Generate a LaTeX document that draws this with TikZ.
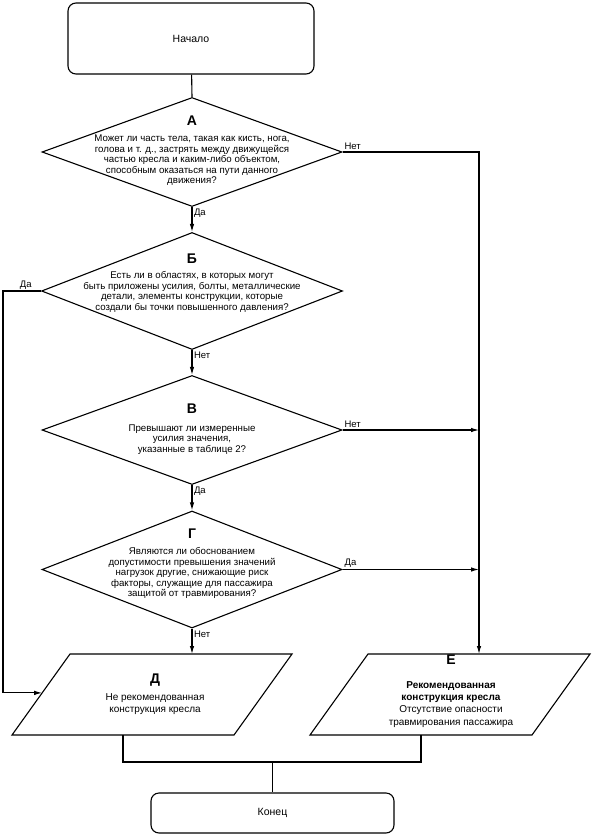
\documentclass[tikz,border=0pt]{standalone}
\usepackage{fontspec}
\setmainfont{Liberation Sans}
\usetikzlibrary{positioning,arrows.meta,shapes.geometric,calc}

\tikzset{
  terminal/.style={rectangle, rounded corners=8pt, draw, line width=1.1pt, font=\fontsize{10.5}{12}\selectfont},
  decision/.style={diamond, draw, line width=1.1pt, inner sep=0pt},
  qtext/.style={align=center, font=\fontsize{9.7}{10.6}\selectfont},
  outcome/.style={align=center, inner sep=0pt, font=\fontsize{10}{12.2}\selectfont},
  lbl/.style={font=\fontsize{9.5}{11}\selectfont, inner sep=1.5pt},
  flow/.style={line width=1.1pt, -{Latex[length=8pt,width=4.5pt]}},
  link/.style={line width=1.1pt}
}
\newcommand{\stagename}[1]{{\fontsize{14}{16}\selectfont\bfseries #1}}

\begin{document}
\begin{tikzpicture}[x=1pt, y=-1pt]
    \useasboundingbox (0,0) rectangle (591,837);

    % Start and end
    \node[terminal, minimum width=246pt, minimum height=71pt] (start) at (191,38.5) {Начало};
    \node[terminal, minimum width=243pt, minimum height=40pt] (finish) at (272.5,813) {Конец};

    % Questions
    \node[decision, minimum width=300pt, minimum height=109pt] (A) at (192,152) {};
    \node[qtext] (Atext) at (192,151) {\stagename{А}\\[5pt]
        Может ли часть тела, такая как кисть, нога,\\
        голова и т. д., застрять между движущейся\\
        частью кресла и каким-либо объектом,\\
        способным оказаться на пути данного\\
        движения?};

    \node[decision, minimum width=301pt, minimum height=117pt] (B) at (192,291) {};
    \node[qtext] (Btext) at (192,283) {\stagename{Б}\\[5pt]
        Есть ли в областях, в которых могут\\
        быть приложены усилия, болты, металлические\\
        детали, элементы конструкции, которые\\
        создали бы точки повышенного давления?};

    \node[decision, minimum width=300pt, minimum height=109pt] (C) at (192,430) {};
    \node[qtext] (Ctext) at (192,429) {\stagename{В}\\[7pt]
        Превышают ли измеренные\\
        усилия значения,\\
        указанные в таблице 2?};

    \node[decision, minimum width=300pt, minimum height=117pt] (G) at (192,569.5) {};
    \node[qtext] (Gtext) at (192,564) {\stagename{Г}\\[5pt]
        Являются ли обоснованием\\
        допустимости превышения значений\\
        нагрузок другие, снижающие риск\\
        факторы, служащие для пассажира\\
        защитой от травмирования?};

    % Outcomes
    \coordinate (Dnw) at (70,654);  \coordinate (Dne) at (292,654);
    \coordinate (Dse) at (234,735); \coordinate (Dsw) at (12,735);
    \coordinate (Enw) at (368,654); \coordinate (Ene) at (590,654);
    \coordinate (Ese) at (532,735); \coordinate (Esw) at (310,735);
    \draw[link] (Dnw) -- (Dne) -- (Dse) -- (Dsw) -- cycle;
    \draw[link] (Enw) -- (Ene) -- (Ese) -- (Esw) -- cycle;
    \node[outcome] (D) at (155,694) {\stagename{Д}\\[5pt]
        Не рекомендованная\\
        конструкция кресла};
    \node[outcome] (E) at (451,691) {\stagename{Е}\\[12pt]
        \textbf{Рекомендованная}\\
        \textbf{конструкция кресла}\\
        Отсутствие опасности\\
        травмирования пассажира};

    \coordinate (Dtop) at ($(Dnw)!0.5!(Dne)$);
    \coordinate (Dbot) at ($(Dsw)!0.5!(Dse)$);
    \coordinate (Etop) at ($(Enw)!0.5!(Ene)$);
    \coordinate (Ebot) at ($(Esw)!0.5!(Ese)$);
    \coordinate (dleft) at ($(Dsw)!0.52!(Dnw)$);
    \coordinate (bturn) at (3,291);
    \coordinate (merge) at (272.5,762);

    % Connectors
    \draw[link] (start) -- (A.north);
    \draw[flow] (A.south) -- (B.north) node[lbl, pos=0, below right] {Да};
    \draw[flow] (A.east) -| (Etop) node[lbl, pos=0, above right] {Нет};
    \draw[flow] (B.south) -- (C.north) node[lbl, pos=0, below right] {Нет};
    \draw[flow] (B.west) -- (bturn) |- (dleft);
    \node[lbl, above] at ($(bturn)!0.6!(B.west)$) {Да};
    \draw[flow] (C.south) -- (G.north) node[lbl, pos=0, below right] {Да};
    \draw[flow] (C.east) -- (C.east -| Etop) node[lbl, pos=0, above right] {Нет};
    \draw[flow] (G.east) -- (G.east -| Etop) node[lbl, pos=0, above right] {Да};
    \draw[flow] (G.south) -- (G.south |- Dtop) node[lbl, pos=0, below right] {Нет};
    \draw[link] (Dbot) |- (merge) -| (Ebot);
    \draw[link] (merge) -- (finish);
\end{tikzpicture}
\end{document}
